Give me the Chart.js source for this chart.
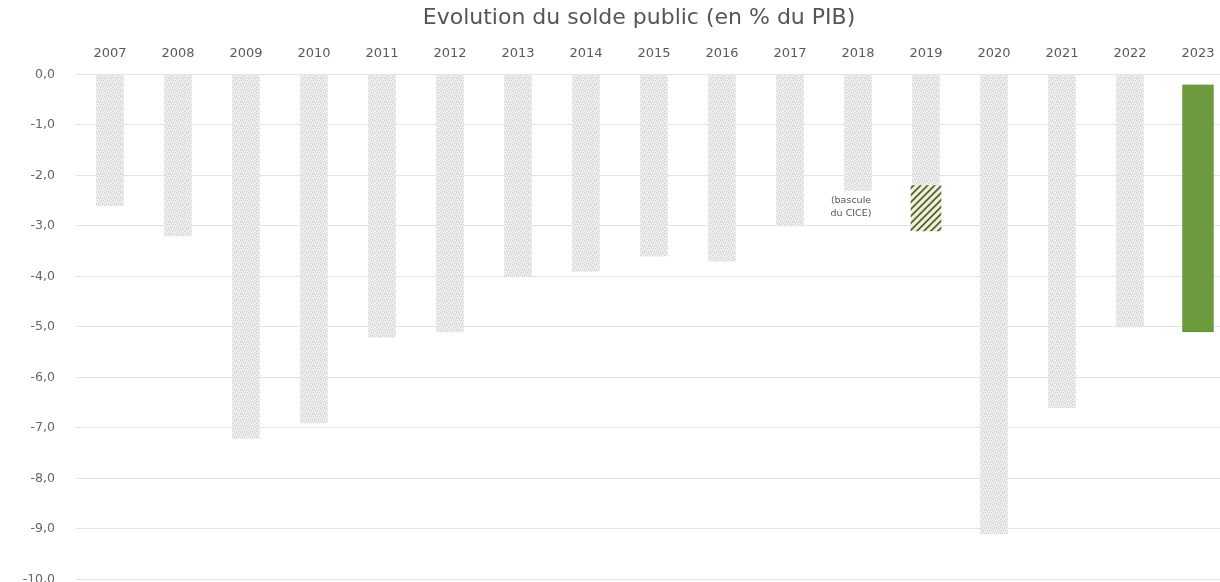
<!DOCTYPE html>
<html lang="fr">
<head>
<meta charset="utf-8">
<title>Evolution du solde public</title>
<script src="https://cdn.jsdelivr.net/npm/chart.js@4/dist/chart.umd.min.js"></script>
<style>
	html, body { margin: 0; padding: 0; background: #fff; overflow: hidden; }
	#wrap { width: 1278px; height: 608px; }
</style>
</head>
<body>
<div id="wrap"><canvas id="soldeChart" width="1278" height="608"></canvas></div>
<script>
const annees = ['2007', '2008', '2009', '2010', '2011', '2012', '2013', '2014', '2015', '2016', '2017', '2018', '2019', '2020', '2021', '2022', '2023'];
// solde public en % du PIB (2019 hors bascule du CICE)
const solde = [-2.6, -3.2, -7.2, -6.9, -5.2, -5.1, -4.0, -3.9, -3.6, -3.7, -3.0, -2.3, -2.2, -9.1, -6.6, -5.0, null];
// solde 2019 y compris la bascule du CICE
const soldeAvecCice = [null, null, null, null, null, null, null, null, null, null, null, null, -3.1, null, null, null, null];
// 2023 : barre mise en avant
const haut2023 = [null, null, null, null, null, null, null, null, null, null, null, null, null, null, null, null, -0.2];
const bas2023 = [null, null, null, null, null, null, null, null, null, null, null, null, null, null, null, null, -5.1];
const yTicks = [0, -1, -2, -3, -4, -5, -6, -7, -8, -9, -10];

const FONT = "'DejaVu Sans', 'Open Sans', sans-serif";

// grain gris des barres
function stipple() {
	const c = document.createElement('canvas');
	c.width = 6; c.height = 6;
	const g = c.getContext('2d');
	g.fillStyle = '#eeeeee';
	g.fillRect(0, 0, 6, 6);
	g.fillStyle = '#d0d0d0';
	[[0, 0], [3, 1], [1, 2], [5, 2], [2, 4], [4, 3], [0, 5], [4, 5], [2, 0]].forEach(([x, y]) => g.fillRect(x, y, 1, 1));
	return g.createPattern(c, 'repeat');
}

// hachures obliques
function hatch() {
	const s = 7;
	const c = document.createElement('canvas');
	c.width = s; c.height = s;
	const g = c.getContext('2d');
	g.fillStyle = '#eef2d4';
	g.fillRect(0, 0, s, s);
	g.strokeStyle = '#56603a';
	g.lineWidth = 1.8;
	g.beginPath();
	g.moveTo(0, s); g.lineTo(s, 0);
	g.moveTo(-1, 1); g.lineTo(1, -1);
	g.moveTo(s - 1, s + 1); g.lineTo(s + 1, s - 1);
	g.stroke();
	return g.createPattern(c, 'repeat');
}

const ciceLabel = {
	id: 'ciceLabel',
	afterDatasetsDraw(chart) {
		const { ctx, scales: { x, y } } = chart;
		const i = soldeAvecCice.findIndex(v => v !== null);
		const cx = x.getPixelForValue(i) - 75;
		const cy = y.getPixelForValue(-2.5);
		ctx.save();
		ctx.font = '9.5px ' + FONT;
		ctx.fillStyle = '#555';
		ctx.textAlign = 'center';
		ctx.textBaseline = 'middle';
		ctx.fillText('(bascule', cx, cy);
		ctx.fillText('du CICE)', cx, cy + 13);
		ctx.restore();
	}
};

const ctx = document.getElementById('soldeChart').getContext('2d');

// eslint-disable-next-line no-undef
new Chart(ctx, {
	type: 'bar',
	data: {
		labels: annees,
		datasets: [{
			label: 'Solde public',
			data: solde.map(v => (v === null ? null : [0, v])),
			backgroundColor: stipple(),
			barThickness: 27,
			grouped: false,
			order: 3
		}, {
			label: 'Bascule du CICE',
			data: soldeAvecCice.map((v, i) => (v === null ? null : [solde[i], v])),
			backgroundColor: hatch(),
			barThickness: 30,
			grouped: false,
			order: 2
		}, {
			label: '2023',
			data: bas2023.map((v, i) => (v === null ? null : [haut2023[i], v])),
			backgroundColor: '#6b9b3c',
			borderColor: '#5f8d33',
			borderWidth: 1,
			barThickness: 31,
			grouped: false,
			order: 1
		}]
	},
	options: {
		responsive: false,
		animation: false,
		layout: { padding: { left: 0, right: 0, top: 0, bottom: 8 } },
		scales: {
			x: {
				position: 'top',
				grid: { display: false, drawTicks: false },
				border: { display: false },
				ticks: {
					color: '#5a5a5a',
					font: { family: FONT, size: 13 },
					padding: 13,
					maxRotation: 0
				},
				afterFit: s => { s.height = 39; }
			},
			y: {
				min: -10,
				max: 0,
				afterBuildTicks: s => { s.ticks = yTicks.map(v => ({ value: v })); },
				grid: { color: '#e4e4e4', lineWidth: 1, drawTicks: false },
				border: { display: false },
				ticks: {
					color: '#666',
					font: { family: FONT, size: 12.5 },
					padding: 21,
					callback: v => v.toFixed(1).replace('.', ',')
				},
				afterFit: s => { s.width = 76; }
			},
			// marge droite, hors de la fenêtre
			yMarge: {
				position: 'right',
				min: -10,
				max: 0,
				grid: { display: false, drawTicks: false },
				border: { display: false },
				ticks: { display: false },
				afterFit: s => { s.width = 46; }
			}
		},
		plugins: {
			legend: { display: false },
			tooltip: { enabled: false },
			title: {
				display: true,
				text: 'Evolution du solde public (en % du PIB)',
				color: '#555',
				font: { family: FONT, size: 22, weight: 'normal' },
				padding: { top: 5, bottom: 4 }
			}
		}
	},
	plugins: [ciceLabel]
});
</script>
</body>
</html>
